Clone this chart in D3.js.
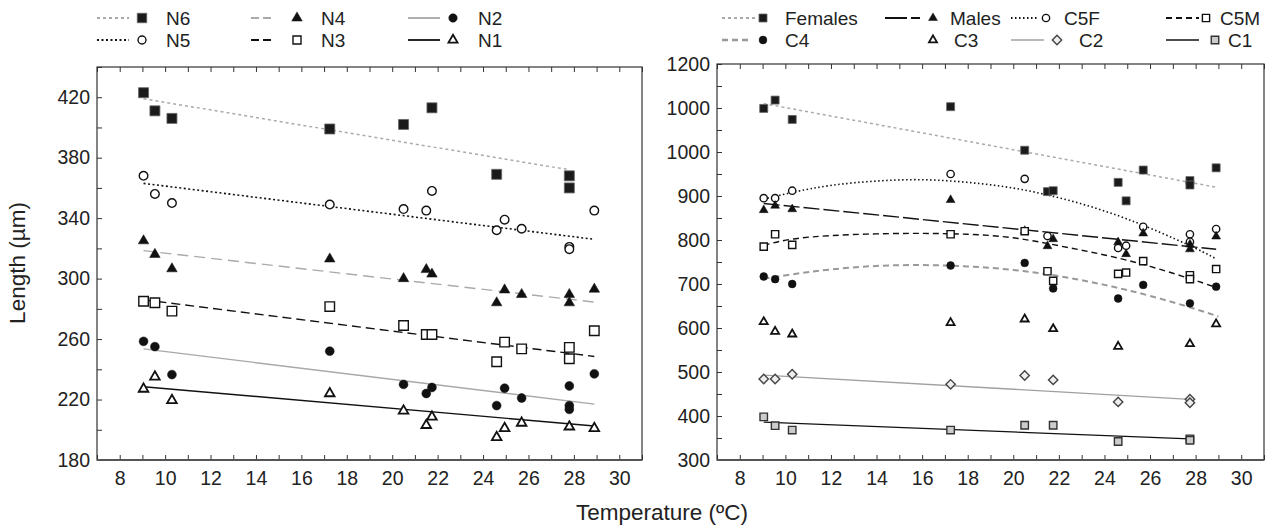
<!DOCTYPE html>
<html>
<head>
<meta charset="utf-8">
<script src="https://cdn.jsdelivr.net/npm/d3@7"></script>
<style>
  body { margin: 0; background: #fff; }
  svg text { font-family: "Liberation Sans", Arial, Helvetica, sans-serif; fill: #222; }
</style>
</head>
<body>
<svg id="chart" width="1280" height="529"></svg>
<script>
// ---- data: [temperature (ºC), length (µm)] ----
// left panel: nauplii
const N6 = [[9.05,423],[9.55,411],[10.3,406],[17.25,399],[20.5,402],[21.75,413],[24.6,369],[27.8,368],[27.8,360]];
const N5 = [[9.05,368],[9.55,356],[10.3,350],[17.25,349],[20.5,346],[21.5,345],[21.75,358],[24.6,332],[24.95,339],[25.7,333],[27.8,321],[27.8,319.5],[28.9,345]];
const N4 = [[9.05,325],[9.55,316],[10.3,306.5],[17.25,313],[20.5,300],[21.5,306],[21.75,303],[24.6,284],[24.95,292.5],[25.7,289.5],[27.8,289.5],[27.8,284],[28.9,293]];
const N3 = [[9.05,285],[9.55,284],[10.3,278.5],[17.25,281.5],[20.5,269],[21.5,263],[21.75,263],[24.6,245],[24.95,258],[25.7,253.5],[27.8,254.5],[27.8,247],[28.9,265.5]];
const N2 = [[9.05,258.5],[9.55,255],[10.3,236.5],[17.25,252],[20.5,230],[21.5,224],[21.75,228],[24.6,216],[24.95,227.5],[25.7,221],[27.8,229],[27.8,216],[27.8,213.5],[28.9,237]];
const N1 = [[9.05,227],[9.55,235],[10.3,219.5],[17.25,224],[20.5,212.5],[21.5,203],[21.75,208.5],[24.6,195],[24.95,201],[25.7,204.5],[27.8,202],[28.9,201]];

// fitted lines
const N6fit = [[9.05,419],[27.8,372]];
const N5fit = [[9.05,363],[28.9,326]];
const N4fit = [[9.05,318.5],[28.9,284.5]];
const N3fit = [[9.05,286],[28.9,248.5]];
const N2fit = [[9.05,253.5],[28.9,217]];
const N1fit = [[9.05,228.5],[28.9,202.5]];

// right panel: copepodites and adults
const females = [[9.05,1099],[9.55,1118],[10.3,1074],[17.25,1103],[20.5,1004],[21.5,910],[21.75,912],[24.6,931],[24.95,889],[25.7,959],[27.75,935],[27.75,925],[28.9,964]];
const males = [[9.05,868],[9.55,878],[10.3,870],[17.25,891],[20.5,821],[21.5,786],[21.75,802],[24.6,795],[24.95,768],[25.7,815],[27.75,790],[27.75,779],[28.9,808]];
const C5F = [[9.05,895],[9.55,895],[10.3,912],[17.25,950],[20.5,939],[21.5,809],[24.6,782],[24.95,787],[25.7,830],[27.75,813],[27.75,796],[28.9,825]];
const C5M = [[9.05,785],[9.55,813],[10.3,789],[17.25,813],[20.5,820],[21.5,729],[21.75,707],[24.6,723],[24.95,726],[25.7,752],[27.75,720],[27.75,711],[28.9,734]];
const C4 = [[9.05,717],[9.55,711],[10.3,700],[17.25,742],[20.5,748],[21.75,690],[24.6,667],[25.7,698],[27.75,656],[28.9,694]];
const C3 = [[9.05,614],[9.55,592],[10.3,586],[17.25,612],[20.5,620],[21.75,598],[24.6,558],[27.75,564],[28.9,609]];
const C2 = [[9.05,484],[9.55,484],[10.3,495],[17.25,472],[20.5,492],[21.75,482],[24.6,432],[27.75,438],[27.75,430]];
const C1 = [[9.05,398],[9.55,378],[10.3,368],[17.25,368],[20.5,379],[21.75,379],[24.6,342],[27.75,348],[27.75,345]];

// fitted lines / curves
const femalesFit = [[9.05,1110],[28.9,920]];
const malesFit = [[9.05,883],[28.9,779]];
const C5Ffit = [[9.05,893],[10.3,908],[12,924],[14,934],[16,937],[18,931],[20,918],[22,896],[24,866],[26,827],[28,781],[28.9,757]];
const C5Mfit = [[9.05,788],[10.3,802],[12,810],[14,814],[16,815],[18,813],[20,805],[22,787],[24,766],[26,740],[28,708],[28.9,692]];
const C4fit = [[9.05,712],[10.3,722],[12,733],[14,741],[16,743],[18,740],[20,732],[22,718],[24,698],[26,673],[28,643],[29,626]];
const C2fit = [[9.05,493],[27.75,438]];
const C1fit = [[9.05,386],[27.75,348]];

// ticks
const xTickLabels = [8,10,12,14,16,18,20,22,24,26,28,30];
const leftYTicks = [180,220,260,300,340,380,420];
const rightYTicks = [300,400,500,600,700,800,900,1000,1100,1200];
const rightYLabels = ["300","400","500","600","700","800","900","1000","1000","1200"];

// ---- styles ----
const lineStyle = {
  N6: { stroke: "#aaa", width: 1.5, dash: "3,3" },
  N5: { stroke: "#111", width: 1.6, dash: "2,2.5" },
  N4: { stroke: "#aaa", width: 1.4, dash: "11,6" },
  N3: { stroke: "#111", width: 1.4, dash: "9,5" },
  N2: { stroke: "#a8a8a8", width: 1.4, dash: null },
  N1: { stroke: "#111", width: 1.4, dash: null },
  Females: { stroke: "#aaa", width: 1.5, dash: "3,3" },
  Males: { stroke: "#111", width: 1.4, dash: "16,4" },
  C5F: { stroke: "#111", width: 1.6, dash: "1.5,2.5" },
  C5M: { stroke: "#111", width: 1.4, dash: "6,4" },
  C4: { stroke: "#999", width: 2, dash: "6,4" },
  C2: { stroke: "#a0a0a0", width: 1.3, dash: null },
  C1: { stroke: "#111", width: 1.3, dash: null }
};

// square turned 45°, wider than d3.symbolDiamond
const symbolRhomb = {
  draw(context, size) {
    const r = Math.sqrt(size / 2);
    context.moveTo(0, -r);
    context.lineTo(r, 0);
    context.lineTo(0, r);
    context.lineTo(-r, 0);
    context.closePath();
  }
};

const markerStyle = {
  filledSquare: { type: d3.symbolSquare, fill: "#1b1b1b", stroke: "#666", sw: 0.8 },
  openCircle: { type: d3.symbolCircle, fill: "#fff", stroke: "#111", sw: 1.4 },
  filledTriangle: { type: d3.symbolTriangle, fill: "#111", stroke: "#111", sw: 0.5 },
  openSquare: { type: d3.symbolSquare, fill: "#fff", stroke: "#111", sw: 1.4 },
  filledCircle: { type: d3.symbolCircle, fill: "#111", stroke: "#111", sw: 0.5 },
  openTriangle: { type: d3.symbolTriangle, fill: "#fff", stroke: "#111", sw: 1.8 },
  diamond: { type: symbolRhomb, fill: "#eee", stroke: "#444", sw: 1.4 },
  greySquare: { type: d3.symbolSquare, fill: "#ccc", stroke: "#333", sw: 1.4 }
};

const svg = d3.select("#chart");

function drawPanel(cfg) {
  const x = d3.scaleLinear().domain(cfg.xDomain).range([cfg.left, cfg.right]);
  const y = d3.scaleLinear().domain(cfg.yDomain).range([cfg.bottom, cfg.top]);
  const g = svg.append("g");

  const xAll = d3.range(cfg.xDomain[0], cfg.xDomain[1] + 1, 1);
  const xAxis = d3.axisBottom(x).tickValues(xAll).tickSize(-5).tickPadding(11)
    .tickFormat(v => xTickLabels.includes(v) ? v : "");
  g.append("g").attr("transform", `translate(0,${cfg.bottom})`).call(xAxis);

  g.append("g").attr("transform", `translate(0,${cfg.top})`)
    .call(d3.axisTop(x).tickValues(xAll).tickSize(-5).tickFormat(""));

  const labelMap = new Map(cfg.yTicks.map((v, i) => [v, cfg.yLabels[i]]));
  const yAxis = d3.axisLeft(y).tickValues(cfg.yMinor).tickSize(-5).tickPadding(7)
    .tickFormat(v => labelMap.has(v) ? labelMap.get(v) : "");
  g.append("g").attr("transform", `translate(${cfg.left},0)`).call(yAxis);

  g.selectAll(".domain").remove();
  g.selectAll(".tick line").attr("stroke", "#333");
  g.selectAll(".tick text").style("font-size", "19.5px").attr("fill", "#222");

  g.append("rect")
    .attr("x", cfg.left).attr("y", cfg.top)
    .attr("width", cfg.right - cfg.left).attr("height", cfg.bottom - cfg.top)
    .attr("fill", "none").attr("stroke", "#333").attr("stroke-width", 1.2);
  g.append("line")
    .attr("x1", cfg.left).attr("x2", cfg.right)
    .attr("y1", cfg.bottom).attr("y2", cfg.bottom)
    .attr("stroke", "#555").attr("stroke-width", 2.2);

  const line = d3.line().x(d => x(d[0])).y(d => y(d[1]));
  cfg.series.forEach(s => {
    if (!s.fit) return;
    const st = lineStyle[s.name];
    g.append("path")
      .datum(s.fit)
      .attr("d", line.curve(s.fit.length > 2 ? d3.curveNatural : d3.curveLinear))
      .attr("fill", "none")
      .attr("stroke", st.stroke)
      .attr("stroke-width", st.width)
      .attr("stroke-dasharray", st.dash);
  });

  cfg.series.forEach(s => {
    const m = markerStyle[s.marker];
    const size = cfg.markerSize[s.marker];
    g.append("g").selectAll("path")
      .data(s.points)
      .join("path")
      .attr("transform", d => `translate(${x(d[0])},${y(d[1])})`)
      .attr("d", d3.symbol().type(m.type).size(size))
      .attr("fill", m.fill)
      .attr("stroke", m.stroke)
      .attr("stroke-width", m.sw);
  });
}

function drawLegend(items, markerSize) {
  const g = svg.append("g");
  items.forEach(it => {
    if (it.lineX) {
      const st = lineStyle[it.name];
      g.append("line")
        .attr("x1", it.lineX[0]).attr("x2", it.lineX[1])
        .attr("y1", it.y).attr("y2", it.y)
        .attr("stroke", st.stroke).attr("stroke-width", st.width + 0.4)
        .attr("stroke-dasharray", it.dash || st.dash);
    }
    const m = markerStyle[it.marker];
    g.append("path")
      .attr("transform", `translate(${it.mx},${it.y})`)
      .attr("d", d3.symbol().type(m.type).size(markerSize[it.marker]))
      .attr("fill", m.fill).attr("stroke", m.stroke).attr("stroke-width", m.sw);
    g.append("text")
      .attr("x", it.tx).attr("y", it.y).attr("dy", "0.36em")
      .style("font-size", "19px")
      .text(it.label);
  });
}

const leftSizes = { filledSquare: 100, openCircle: 58, filledTriangle: 48, openSquare: 90, filledCircle: 62, openTriangle: 40 };
const rightSizes = { filledSquare: 64, openCircle: 42, filledTriangle: 34, openSquare: 52, filledCircle: 48, openTriangle: 28, diamond: 44, greySquare: 56 };

drawPanel({
  left: 97, right: 642, top: 67, bottom: 460,
  xDomain: [7, 31], yDomain: [180, 440],
  yTicks: leftYTicks, yLabels: leftYTicks.map(String),
  yMinor: d3.range(180, 441, 20),
  markerSize: leftSizes,
  series: [
    { name: "N6", points: N6, fit: N6fit, marker: "filledSquare" },
    { name: "N5", points: N5, fit: N5fit, marker: "openCircle" },
    { name: "N4", points: N4, fit: N4fit, marker: "filledTriangle" },
    { name: "N3", points: N3, fit: N3fit, marker: "openSquare" },
    { name: "N2", points: N2, fit: N2fit, marker: "filledCircle" },
    { name: "N1", points: N1, fit: N1fit, marker: "openTriangle" }
  ]
});

drawPanel({
  left: 717, right: 1264, top: 64, bottom: 460,
  xDomain: [7, 31], yDomain: [300, 1200],
  yTicks: rightYTicks, yLabels: rightYLabels,
  yMinor: d3.range(300, 1201, 50),
  markerSize: rightSizes,
  series: [
    { name: "Females", points: females, fit: femalesFit, marker: "filledSquare" },
    { name: "C5F", points: C5F, fit: C5Ffit, marker: "openCircle" },
    { name: "Males", points: males, fit: malesFit, marker: "filledTriangle" },
    { name: "C5M", points: C5M, fit: C5Mfit, marker: "openSquare" },
    { name: "C4", points: C4, fit: C4fit, marker: "filledCircle" },
    { name: "C3", points: C3, fit: null, marker: "openTriangle" },
    { name: "C2", points: C2, fit: C2fit, marker: "diamond" },
    { name: "C1", points: C1, fit: C1fit, marker: "greySquare" }
  ]
});

drawLegend([
  { name: "N6", label: "N6", marker: "filledSquare", y: 18, lineX: [97, 129], mx: 142, tx: 166 },
  { name: "N4", label: "N4", marker: "filledTriangle", y: 18, lineX: [251, 271], mx: 297, tx: 321, dash: "8,4" },
  { name: "N2", label: "N2", marker: "filledCircle", y: 18, lineX: [408, 440], mx: 453, tx: 478 },
  { name: "N5", label: "N5", marker: "openCircle", y: 40, lineX: [97, 129], mx: 142, tx: 166 },
  { name: "N3", label: "N3", marker: "openSquare", y: 40, lineX: [251, 271], mx: 297, tx: 321, dash: "8,4" },
  { name: "N1", label: "N1", marker: "openTriangle", y: 40, lineX: [408, 440], mx: 453, tx: 478 }
], { filledSquare: 90, filledTriangle: 48, filledCircle: 56, openCircle: 50, openSquare: 64, openTriangle: 36 });

drawLegend([
  { name: "Females", label: "Females", marker: "filledSquare", y: 18, lineX: [722, 756], mx: 763, tx: 785 },
  { name: "Males", label: "Males", marker: "filledTriangle", y: 18, lineX: [885, 922], mx: 933, tx: 950, dash: "22,4,9,40" },
  { name: "C5F", label: "C5F", marker: "openCircle", y: 18, lineX: [1011, 1038], mx: 1046, tx: 1064 },
  { name: "C5M", label: "C5M", marker: "openSquare", y: 18, lineX: [1166, 1199], mx: 1206, tx: 1220 },
  { name: "C4", label: "C4", marker: "filledCircle", y: 40, lineX: [722, 748], mx: 763, tx: 785 },
  { name: "C3", label: "C3", marker: "openTriangle", y: 40, lineX: null, mx: 933, tx: 954 },
  { name: "C2", label: "C2", marker: "diamond", y: 40, lineX: [1011, 1044], mx: 1057, tx: 1079 },
  { name: "C1", label: "C1", marker: "greySquare", y: 40, lineX: [1166, 1199], mx: 1215, tx: 1228 }
], rightSizes);

// axis titles
svg.append("text")
  .attr("transform", "translate(25,263) rotate(-90)")
  .attr("text-anchor", "middle")
  .style("font-size", "22.5px")
  .text("Length (µm)");

svg.append("text")
  .attr("x", 662).attr("y", 520)
  .attr("text-anchor", "middle")
  .style("font-size", "22.5px")
  .text("Temperature (ºC)");
</script>
</body>
</html>
